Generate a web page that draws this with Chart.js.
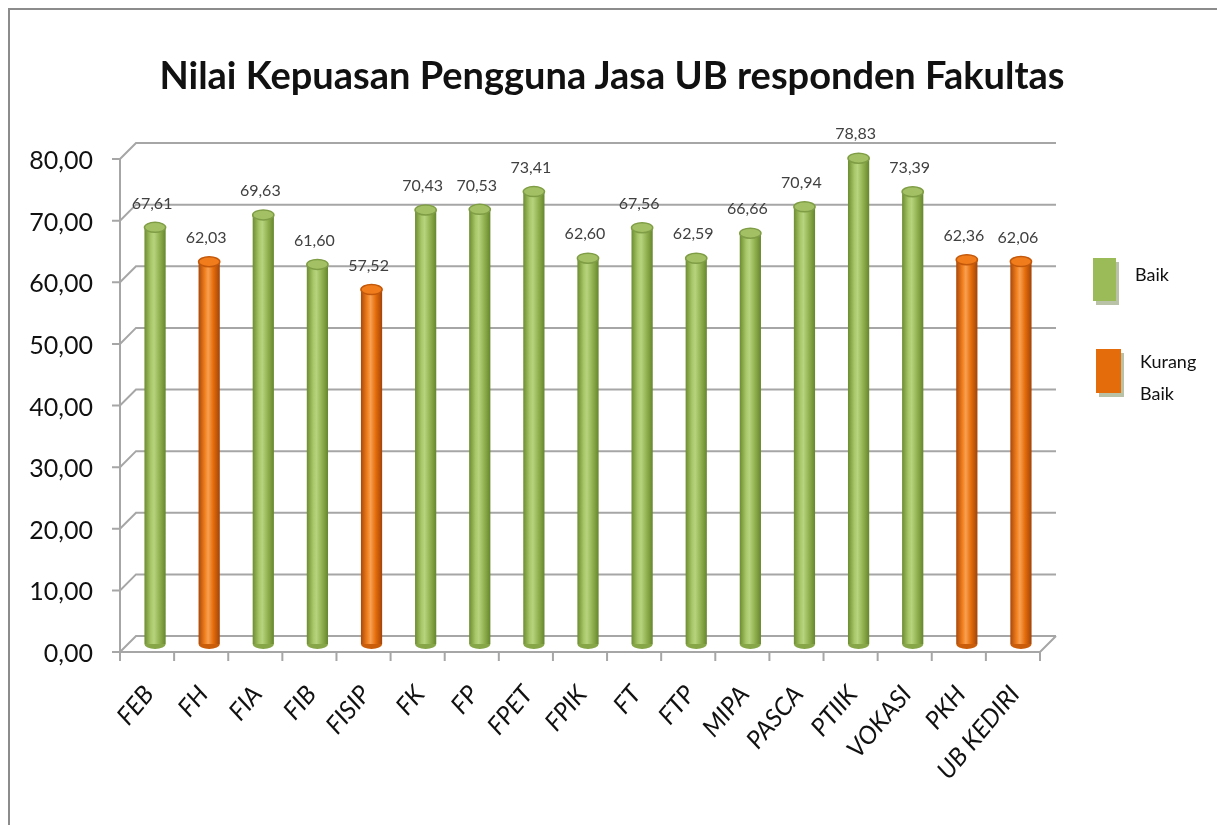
<!DOCTYPE html>
<html>
<head>
<meta charset="utf-8">
<script src="https://cdn.jsdelivr.net/npm/chart.js@4.4.1/dist/chart.umd.min.js"></script>
<style>
  html, body { margin: 0; padding: 0; background: #fff; }
  #wrap { position: relative; width: 1217px; height: 825px; overflow: hidden; }
  #frame { position: absolute; left: 8px; top: 8px; right: -10px; bottom: -10px;
           border-left: 2px solid #8c8c8c; border-top: 2px solid #8c8c8c; }
  canvas { position: absolute; left: 0; top: 0; }
  #title { position: absolute; left: 0; width: 1224px; top: 50px; text-align: center;
           font-family: Lato, "Open Sans", sans-serif;
           font-weight: bold; font-size: 38px; line-height: 48px; color: #111; }
  .lg { position: absolute; font-family: Lato, "Open Sans", sans-serif; font-size: 18px; color: #111; line-height: 32px; }
  .lg .box { position: absolute; box-shadow: 3px 4px 0 #b9c1a6; }
</style>
</head>
<body>
<div id="wrap">
  <div id="frame"></div>
  <canvas id="chart" width="1217" height="825"></canvas>
  <div id="title">Nilai Kepuasan Pengguna Jasa UB responden Fakultas</div>
  <div id="legend"></div>
</div>
<script>
// Nilai kepuasan per fakultas
const categories = ["FEB", "FH", "FIA", "FIB", "FISIP", "FK", "FP", "FPET", "FPIK", "FT",
                    "FTP", "MIPA", "PASCA", "PTIIK", "VOKASI", "PKH", "UB KEDIRI"];
const nilaiBaik = [67.61, null, 69.63, 61.60, null, 70.43, 70.53, 73.41, 62.60, 67.56,
                   62.59, 66.66, 70.94, 78.83, 73.39, null, null];
const nilaiKurangBaik = [null, 62.03, null, null, 57.52, null, null, null, null, null,
                         null, null, null, null, null, 62.36, 62.06];
const seriesLabels = ["Baik", "Kurang Baik"];

const GREEN = "#9bbb59";
const ORANGE = "#e46c0a";
const DEPTH = 8; // half of the fake 3d offset
const FONT = "Lato, 'Open Sans', sans-serif";

const fmt = (v) => v.toFixed(2).replace(".", ",");

// cylinder look: horizontal gradient across each bar
const stops = {
  green: [[0, "#6c8c30"], [0.3, "#a8c768"], [0.45, "#b7d47e"], [0.7, "#93b352"], [1, "#66862c"]],
  orange: [[0, "#a9480a"], [0.3, "#f2801e"], [0.45, "#f8a052"], [0.7, "#e46c0a"], [1, "#a0440a"]],
};

function barGradient(ctx, kind, fallback) {
  const chart = ctx.chart;
  const xs = chart.scales.x;
  if (!chart.chartArea || !xs || ctx.dataIndex == null) return fallback;
  const cx = xs.getPixelForValue(ctx.dataIndex);
  const w = (chart.chartArea.width / categories.length) * 0.8 * 0.49;
  const g = chart.ctx.createLinearGradient(cx - w / 2, 0, cx + w / 2, 0);
  stops[kind].forEach(([o, c]) => g.addColorStop(o, c));
  return g;
}

const frame3d = {
  id: "frame3d",
  beforeDatasetsDraw(chart) {
    const { ctx, chartArea: a, scales: { y } } = chart;
    const d = DEPTH;
    ctx.save();
    ctx.strokeStyle = "#a6a6a6";
    ctx.lineWidth = 2;
    y.ticks.forEach((t) => {
      const py = y.getPixelForValue(t.value);
      ctx.beginPath();
      ctx.moveTo(a.left - d - 8, py + d);
      ctx.lineTo(a.left - d, py + d);
      ctx.lineTo(a.left + d, py - d);
      ctx.lineTo(a.right + d, py - d);
      ctx.stroke();
    });
    ctx.beginPath();
    ctx.moveTo(a.left - d, a.top + d);
    ctx.lineTo(a.left - d, a.bottom + d);
    ctx.lineTo(a.right - d, a.bottom + d);
    ctx.lineTo(a.right + d, a.bottom - d);
    ctx.stroke();
    const cw = a.width / categories.length;
    for (let i = 0; i <= categories.length; i++) {
      const px = a.left - d + i * cw;
      ctx.beginPath();
      ctx.moveTo(px, a.bottom + d);
      ctx.lineTo(px, a.bottom + d + 9);
      ctx.stroke();
    }
    ctx.restore();
  },
  afterDatasetsDraw(chart) {
    const { ctx } = chart;
    ctx.save();
    chart.data.datasets.forEach((ds, di) => {
      const meta = chart.getDatasetMeta(di);
      meta.data.forEach((el, i) => {
        const v = ds.data[i];
        if (v == null) return;
        const rx = el.width / 2;
        const ry = 5;
        const green = di === 0;
        // bottom rounding
        ctx.beginPath();
        ctx.ellipse(el.x, el.base, rx, ry, 0, 0, Math.PI);
        ctx.fillStyle = green ? "#86a648" : "#c95d0a";
        ctx.fill();
        // top cap
        ctx.beginPath();
        ctx.ellipse(el.x, el.y, rx, ry, 0, 0, Math.PI * 2);
        ctx.fillStyle = green ? "#a3c164" : "#f07c1c";
        ctx.fill();
        ctx.lineWidth = 1.5;
        ctx.strokeStyle = green ? "#7f9d45" : "#c3580a";
        ctx.stroke();
        // value label
        ctx.fillStyle = "#404040";
        ctx.font = "16px " + FONT;
        ctx.textAlign = "center";
        ctx.textBaseline = "middle";
        ctx.fillText(fmt(v), el.x - 3, el.y - 24);
      });
    });
    ctx.restore();
  },
};

const chart = new Chart(document.getElementById("chart"), {
  type: "bar",
  data: {
    labels: categories,
    datasets: [
      { label: seriesLabels[0], data: nilaiBaik, backgroundColor: (c) => barGradient(c, "green", GREEN) },
      { label: seriesLabels[1], data: nilaiKurangBaik, backgroundColor: (c) => barGradient(c, "orange", ORANGE) },
    ],
  },
  options: {
    responsive: false,
    animation: false,
    devicePixelRatio: 1,
    layout: { padding: { left: 8, right: 169, top: 151, bottom: 0 } },
    datasets: { bar: { categoryPercentage: 0.8, barPercentage: 0.49, borderWidth: 0, skipNull: true } },
    plugins: {
      legend: { display: false },
      tooltip: { enabled: false },
    },
    scales: {
      x: {
        stacked: true,
        grid: { display: false, drawTicks: false },
        border: { display: false },
        ticks: {
          color: "#111",
          font: { family: FONT, size: 25, style: "italic" },
          minRotation: 50,
          maxRotation: 50,
          labelOffset: -DEPTH + 2,
          padding: 36,
        },
        afterFit: (s) => { s.height = 181; },
      },
      y: {
        min: 0,
        max: 80,
        grid: { display: false, drawTicks: false },
        border: { display: false },
        ticks: {
          stepSize: 10,
          color: "#111",
          font: { family: FONT, size: 25 },
          padding: 35,
          labelOffset: DEPTH + 2,
          callback: (v) => fmt(v),
        },
        afterFit: (s) => { s.width = 120; },
      },
    },
  },
  plugins: [frame3d],
});

// legend as html, built from the datasets
const legendEl = document.getElementById("legend");
const legendPos = [
  { box: [1093, 258, 23, 43], text: [1135, 258], html: "Baik" },
  { box: [1096, 349, 25, 44], text: [1140, 345], html: "Kurang<br>Baik" },
];
chart.data.datasets.forEach((ds, i) => {
  const p = legendPos[i];
  const box = document.createElement("div");
  box.className = "lg";
  box.innerHTML = `<div class="box" style="left:${p.box[0]}px;top:${p.box[1]}px;width:${p.box[2]}px;height:${p.box[3]}px;background:${i === 0 ? GREEN : ORANGE}"></div>`;
  legendEl.appendChild(box);
  const txt = document.createElement("div");
  txt.className = "lg";
  txt.style.left = p.text[0] + "px";
  txt.style.top = p.text[1] + "px";
  txt.innerHTML = p.html;
  legendEl.appendChild(txt);
});
</script>
</body>
</html>
